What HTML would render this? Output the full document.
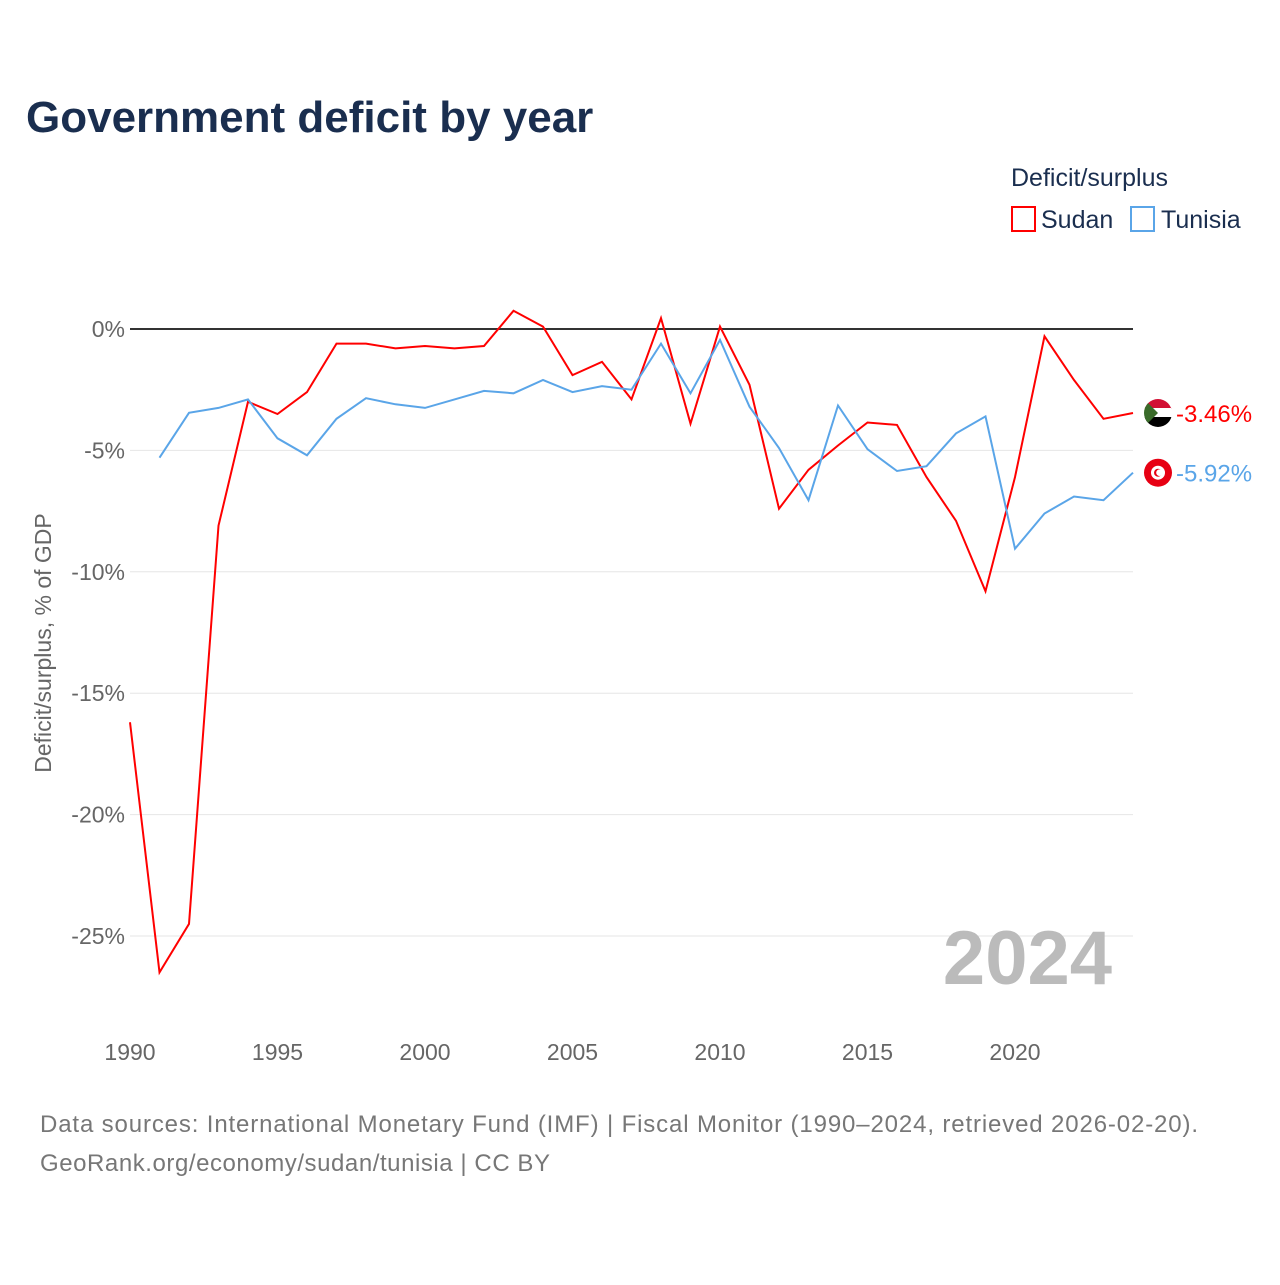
<!DOCTYPE html>
<html><head><meta charset="utf-8">
<style>
body{margin:0;background:#fff;font-family:"Liberation Sans",sans-serif;}
svg text{font-family:"Liberation Sans",sans-serif;}
</style></head>
<body>
<svg width="1280" height="1280" viewBox="0 0 1280 1280">
<defs>
<clipPath id="cs"><circle cx="0" cy="0" r="14"/></clipPath>
</defs>
<text x="26" y="132" font-size="44" font-weight="bold" fill="#1a2e4f">Government deficit by year</text>
<text x="1011" y="186" font-size="25" fill="#1a2e4f">Deficit/surplus</text>
<g><rect x="1012" y="207" width="23" height="24" fill="none" stroke="#f00" stroke-width="2"/><text x="1041" y="228" font-size="25" fill="#1a2e4f">Sudan</text></g>
<g><rect x="1131" y="207" width="23" height="24" fill="none" stroke="#5aa5e8" stroke-width="2"/><text x="1161" y="228" font-size="25" fill="#1a2e4f">Tunisia</text></g>
<g id="grid"></g><g id="yt"></g><g id="xt"></g>
<text transform="translate(51,643) rotate(-90)" text-anchor="middle" font-size="23" fill="#666">Deficit/surplus, % of GDP</text>
<text x="1112" y="984" text-anchor="end" font-size="76" font-weight="bold" fill="#bbb">2024</text>
<g id="series"></g>
<text x="40" y="1132" font-size="24" fill="#777" textLength="1158">Data sources: International Monetary Fund (IMF) | Fiscal Monitor (1990–2024, retrieved 2026-02-20).</text>
<text x="40" y="1171" font-size="24" fill="#777" textLength="510">GeoRank.org/economy/sudan/tunisia | CC BY</text>
</svg>
<script>
const years=[];for(let y=1990;y<=2024;y++)years.push(y);
const sudan=[-16.2,-26.5,-24.5,-8.1,-3.0,-3.5,-2.6,-0.6,-0.6,-0.8,-0.7,-0.8,-0.7,0.75,0.1,-1.9,-1.35,-2.9,0.45,-3.9,0.1,-2.3,-7.4,-5.8,-4.8,-3.85,-3.95,-6.1,-7.9,-10.8,-6.1,-0.3,-2.1,-3.7,-3.46];
const tunisia=[null,-5.3,-3.45,-3.25,-2.9,-4.5,-5.2,-3.7,-2.85,-3.1,-3.25,-2.9,-2.55,-2.65,-2.1,-2.6,-2.35,-2.5,-0.6,-2.65,-0.45,-3.2,-4.9,-7.05,-3.15,-4.95,-5.85,-5.65,-4.3,-3.6,-9.05,-7.6,-6.9,-7.05,-5.92];
const yTicks=[0,-5,-10,-15,-20,-25];
const xTicks=[1990,1995,2000,2005,2010,2015,2020];
const X=y=>130+(y-1990)*(1133-130)/34;
const Y=v=>329-v*24.28;
const NS="http://www.w3.org/2000/svg";
function mk(p,t,a){const e=document.createElementNS(NS,t);for(const k in a)e.setAttribute(k,a[k]);p.appendChild(e);return e;}
const grid=document.getElementById('grid'),yt=document.getElementById('yt'),xt=document.getElementById('xt'),ser=document.getElementById('series');
yTicks.forEach(v=>{
 const l=mk(grid,'line',{x1:130,x2:1133,y1:Y(v),y2:Y(v),stroke:v===0?'#333':'#e6e6e6','stroke-width':v===0?2:1});
 
 
 const t=mk(yt,'text',{x:125,y:Y(v)+8,'text-anchor':'end','font-size':23,fill:'#666'});
 t.textContent=v+'%';
 
 
});
xTicks.forEach(v=>{
 const t=mk(xt,'text',{x:X(v),y:1060,'text-anchor':'middle','font-size':23,fill:'#666'});
 t.textContent=v;
 
 
});
function line(data,color,name){
 let d='';data.forEach((v,i)=>{if(v===null)return;d+=(d?'L':'M')+X(years[i]).toFixed(1)+','+Y(v).toFixed(1);});
 const p=mk(ser,'path',{d:d,fill:'none',stroke:color,'stroke-width':2});
 
 
 const last=data[data.length-1];
 const g=mk(ser,'g',{transform:'translate(1158,'+Y(last).toFixed(1)+')'});
 
 
 if(name==='sudan'){
  const f=mk(g,'g',{'clip-path':'url(#cs)'});
  mk(f,'rect',{x:-14,y:-14,width:28,height:10,fill:'#d21034'});
  mk(f,'rect',{x:-14,y:-5,width:28,height:10,fill:'#fff'});
  mk(f,'rect',{x:-14,y:4,width:28,height:10,fill:'#000'});
  mk(f,'path',{d:'M-14,-14L0,0L-14,14Z',fill:'#3a6b2a'});
 }else{
  mk(g,'circle',{cx:0,cy:0,r:14,fill:'#e70013'});
  mk(g,'circle',{cx:0,cy:0,r:7,fill:'#fff'});
  mk(g,'circle',{cx:0,cy:0,r:4,fill:'#e70013'});
  mk(g,'circle',{cx:1.5,cy:0,r:3.3,fill:'#fff'});
 }
 const t=mk(ser,'text',{x:1176,y:Y(last)+9,'font-size':24,fill:color});
 t.textContent=last.toFixed(2)+'%';
 
 
}
line(sudan,'#ff0000','sudan');
line(tunisia,'#5aa5e8','tunisia');
</script>
</body></html>
